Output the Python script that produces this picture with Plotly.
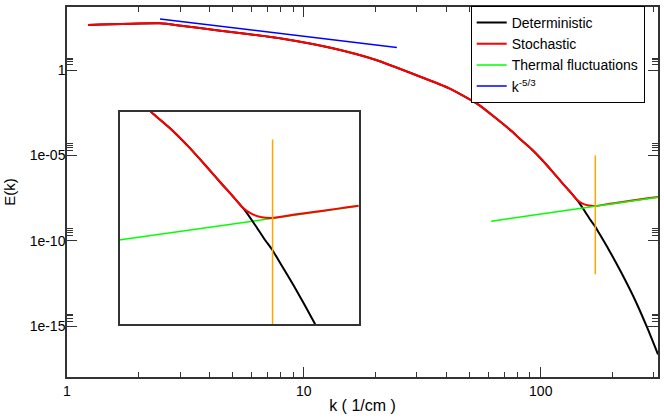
import plotly.graph_objects as go

# spectra (k in 1/cm, E(k))
k_stoch = [1.226, 2.466, 3.090, 4.276, 5.902, 8.147, 13.24, 20.18, 29.72, 41.11, 54.95,
           75.68, 81.28, 91.55, 101.4, 112.3, 124.4, 132.3, 140.7, 149.6, 159.1, 169.8,
           195.2, 213.8, 251.2, 288.4, 312.6]
E_stoch = [432.5, 544.5, 378.4, 216.3, 124.5, 67.6, 18.66, 3.855, 0.509, 0.0847, 8.91e-3,
           2.51e-4, 9.84e-5, 2.307e-5, 5.41e-6, 1.102e-6, 2.11e-7, 8.13e-8, 2.94e-8, 1.56e-8,
           1.17e-8, 1.10e-8, 1.48e-8, 1.76e-8, 2.43e-8, 3.20e-8, 3.76e-8]

k_det = [1.226, 2.466, 3.090, 4.276, 5.902, 8.147, 13.24, 20.18, 29.72, 41.11, 54.95,
         75.68, 81.28, 91.55, 101.4, 112.3, 124.4, 130.9, 143.6, 152.7, 162.3, 169.8,
         176.2, 193.2, 220.7, 251.2, 281.8, 312.6]
E_det = [432.5, 544.5, 378.4, 216.3, 124.5, 67.6, 18.66, 3.855, 0.509, 0.0847, 8.91e-3,
         2.51e-4, 9.84e-5, 2.307e-5, 5.41e-6, 1.102e-6, 2.11e-7, 9.55e-8, 2.09e-8, 6.00e-9,
         1.63e-9, 6.84e-10, 2.87e-10, 3.27e-11, 1.10e-12, 3.02e-14, 7.94e-16, 2.24e-17]

k_thermal = [61.8, 312.6]
E_thermal = [1.41e-9, 3.63e-8]

k_kolmo = [2.47, 24.7]
E_kolmo = [973, 21.0]

k_cut = [170, 170]
E_cut = [1.0e-5, 1.1e-12]

y_ticks = [1e-15, 1e-10, 1e-5, 1]
y_ticktext = ["1e-15", "1e-10", "1e-05", "1"]
x_ticks = [1, 10, 100]
x_ticktext = ["1", "10", "100"]

FONT = "Liberation Sans, Arial, sans-serif"
AXIS = "#333333"

fig = go.Figure()

# main panel
fig.add_trace(go.Scatter(x=k_det, y=E_det, mode="lines", name="Deterministic",
                         line=dict(color="black", width=2, shape="spline", smoothing=0.5)))
fig.add_trace(go.Scatter(x=k_stoch, y=E_stoch, mode="lines", name="Stochastic",
                         line=dict(color="#ff0000", width=2, shape="spline", smoothing=0.5)))
fig.add_trace(go.Scatter(x=k_thermal, y=E_thermal, mode="lines", name="Thermal fluctuations",
                         line=dict(color="#00ff00", width=1.5)))
fig.add_trace(go.Scatter(x=k_kolmo, y=E_kolmo, mode="lines", name="k<sup>-5/3</sup>",
                         line=dict(color="#0000ff", width=1.5)))
fig.add_trace(go.Scatter(x=k_cut, y=E_cut, mode="lines", showlegend=False,
                         line=dict(color="#ffa500", width=1.5)))

# inset: zoom on the crossover
fig.add_trace(go.Scatter(x=k_thermal, y=E_thermal, mode="lines", showlegend=False,
                         line=dict(color="#00ff00", width=1.5), xaxis="x2", yaxis="y2"))
fig.add_trace(go.Scatter(x=k_det, y=E_det, mode="lines", showlegend=False,
                         line=dict(color="black", width=2, shape="spline", smoothing=0.5),
                         xaxis="x2", yaxis="y2"))
fig.add_trace(go.Scatter(x=k_stoch, y=E_stoch, mode="lines", showlegend=False,
                         line=dict(color="#ff0000", width=2, shape="spline", smoothing=0.5),
                         xaxis="x2", yaxis="y2"))
fig.add_trace(go.Scatter(x=k_cut, y=E_cut, mode="lines", showlegend=False,
                         line=dict(color="#ffa500", width=1.5), xaxis="x2", yaxis="y2"))

x_minor = [m * d for d in (1, 10) for m in range(2, 10)] + [200, 300]
y_minor = [m * d for d in y_ticks for m in (2, 3, 4, 5)]

fig.update_layout(
    width=664, height=420,
    margin=dict(l=67, r=6, t=7, b=43),
    paper_bgcolor="white", plot_bgcolor="white",
    font=dict(family=FONT, size=14, color="black"),
    xaxis=dict(type="log", range=[0, 2.495], tickmode="array", tickvals=x_ticks,
               ticktext=x_ticktext, ticks="inside", ticklen=10, tickcolor=AXIS,
               showline=True, linecolor=AXIS, linewidth=1.5, mirror="allticks",
               showgrid=False, zeroline=False, automargin=False,
               minor=dict(tickvals=x_minor, ticks="inside", ticklen=5, tickcolor=AXIS),
               title=dict(text="k ( 1/cm )", font=dict(size=16), standoff=2)),
    yaxis=dict(type="log", range=[-17.97, 3.69], tickmode="array", tickvals=y_ticks,
               ticktext=y_ticktext, ticks="inside", ticklen=10, tickcolor=AXIS,
               showline=True, linecolor=AXIS, linewidth=1.5, mirror="allticks",
               showgrid=False, zeroline=False, automargin=False, ticklabelstandoff=-3,
               minor=dict(tickvals=y_minor, ticks="inside", ticklen=6, tickcolor=AXIS),
               title=dict(text="E(k)", font=dict(size=15), standoff=10)),
    xaxis2=dict(type="log", range=[1.823, 2.460], domain=[0.0896, 0.4933], anchor="y2",
                showline=True, linecolor=AXIS, linewidth=1.5, mirror=True,
                ticks="", showticklabels=False, showgrid=False, zeroline=False),
    yaxis2=dict(type="log", range=[-11.96, -3.97], domain=[0.1432, 0.7154], anchor="x2",
                showline=True, linecolor=AXIS, linewidth=1.5, mirror=True,
                ticks="", showticklabels=False, showgrid=False, zeroline=False),
    legend=dict(x=0.9775, xanchor="right", y=1.003, yanchor="top",
                bgcolor="white", bordercolor="black", borderwidth=1,
                font=dict(size=14), tracegroupgap=0),
    showlegend=True,
)

fig.write_html("out.html", config={"displayModeBar": False},
               post_script="document.body.style.margin='0';")
